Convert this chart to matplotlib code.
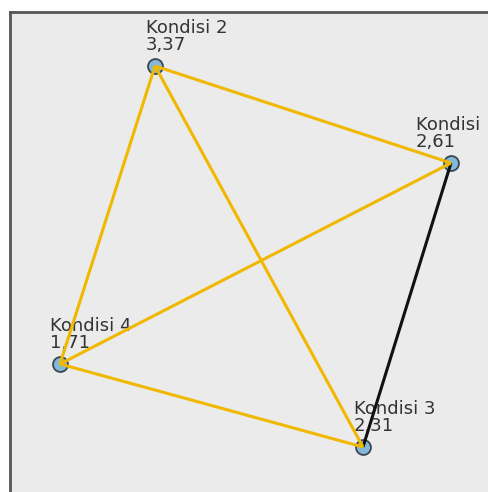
import matplotlib
matplotlib.use("Agg")
import matplotlib.pyplot as plt

# mean ranks per condition (Friedman pairwise comparison network)
conditions = ["Kondisi 1", "Kondisi 2", "Kondisi 3", "Kondisi 4"]
mean_ranks = [2.61, 3.37, 2.31, 1.71]
# pairs and whether the difference is significant (black) or not (yellow)
pairs = [(0, 1), (0, 2), (0, 3), (1, 2), (1, 3), (2, 3)]
significant = [False, True, False, False, False, False]

# layout of the nodes (pixel-like units, y grows downwards)
node_x = [451, 155, 363, 60]
node_y = [163, 66, 447, 364]
label_dx = [-35, -9, -9, -10]

COLOR_NS = "#F0B800"
COLOR_SIG = "#111111"
COLOR_NODE = "#84B8DA"
COLOR_EDGE = "#3B4650"
COLOR_BG = "#EBEBEB"
COLOR_TEXT = "#333333"

W, H = 488, 492
fig = plt.figure(figsize=(W / 100, H / 100), dpi=100)
left, top = 10, 12
ax = fig.add_axes([left / W, -10 / H, (W - left + 10) / W, (H - top + 10) / H])
ax.set_xlim(left, W + 10)
ax.set_ylim(H + 10, top)
ax.set_facecolor(COLOR_BG)
for sp in ax.spines.values():
    sp.set_color("#555555")
    sp.set_linewidth(2)
ax.set_xticks([])
ax.set_yticks([])

for (a, b), sig in zip(pairs, significant):
    ax.plot([node_x[a], node_x[b]], [node_y[a], node_y[b]],
            color=COLOR_SIG if sig else COLOR_NS, linewidth=2.2,
            solid_capstyle="butt", zorder=4)

ax.scatter(node_x, node_y, s=115, color=COLOR_NODE, edgecolor=COLOR_EDGE,
           linewidth=1.3, zorder=2)

for name, rank, x, y, dx in zip(conditions, mean_ranks, node_x, node_y, label_dx):
    label = f"{name}\n{rank:.2f}".replace(".", ",")
    ax.text(x + dx, y - 12, label, ha="left", va="bottom", fontsize=13,
            color=COLOR_TEXT, linespacing=0.92, zorder=3)

fig.savefig("out.png", dpi=100, facecolor="white")
